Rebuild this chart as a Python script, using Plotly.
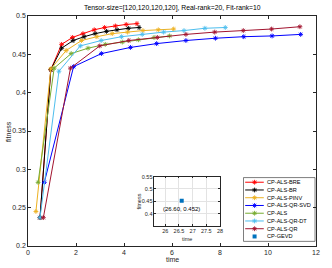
import plotly.graph_objects as go

# ---------------- data ----------------
bre_t = [0.50, 0.95, 1.40, 1.85, 2.29, 2.76, 3.19, 3.64, 4.09, 4.54]
bre_f = [0.237, 0.430, 0.463, 0.472, 0.477, 0.482, 0.485, 0.487, 0.489, 0.490]

br_t = [0.50, 0.95, 1.40, 1.88, 2.34, 2.80, 3.27, 3.71, 4.18, 4.63]
br_f = [0.237, 0.430, 0.458, 0.468, 0.473, 0.477, 0.480, 0.482, 0.484, 0.485]

pinv_t = [0.33, 0.95, 1.59, 2.23, 2.87, 3.51, 4.15, 4.79, 5.43, 6.07]
pinv_f = [0.245, 0.431, 0.455, 0.468, 0.473, 0.477, 0.479, 0.481, 0.482, 0.483]

qrsvd_t = [0.68, 1.90, 3.06, 4.27, 5.36, 6.58, 7.81, 8.99, 10.17, 11.36]
qrsvd_f = [0.283, 0.434, 0.451, 0.459, 0.464, 0.468, 0.471, 0.473, 0.474, 0.476]

als_t = [0.42, 1.09, 1.80, 2.50, 3.22, 3.93, 4.60, 5.25, 5.90]
als_f = [0.283, 0.432, 0.451, 0.458, 0.463, 0.466, 0.469, 0.472, 0.474]

qrdt_t = [0.50, 1.29, 2.18, 3.05, 3.90, 4.76, 5.65, 6.50, 7.37, 8.22]
qrdt_f = [0.237, 0.428, 0.461, 0.468, 0.473, 0.476, 0.479, 0.481, 0.484, 0.485]

qr_t = [0.64, 1.77, 2.99, 4.20, 5.39, 6.58, 7.78, 8.97, 10.15, 11.33]
qr_f = [0.237, 0.432, 0.461, 0.468, 0.472, 0.476, 0.479, 0.481, 0.483, 0.486]

gevd_t = [26.60]
gevd_f = [0.452]

series_names = ["CP-ALS-BRE", "CP-ALS-BR", "CP-ALS-PINV", "CP-ALS-QR-SVD",
                "CP-ALS", "CP-ALS-QR-DT", "CP-ALS-QR"]
series_t = [bre_t, br_t, pinv_t, qrsvd_t, als_t, qrdt_t, qr_t]
series_f = [bre_f, br_f, pinv_f, qrsvd_f, als_f, qrdt_f, qr_f]
series_colors = ["#FF0000", "#000000", "#EDB120", "#0000FF",
                 "#77AC30", "#4DBEEE", "#A2142F"]
gevd_name = "CP-GEVD"
gevd_color = "#0072BD"

main_xticks = [0, 2, 4, 6, 8, 10, 12]
main_yticks = [0.2, 0.25, 0.3, 0.35, 0.4, 0.45, 0.5]
inset_xticks = [26, 26.5, 27, 27.5, 28]
inset_yticks = [0.4, 0.45, 0.5, 0.55]

title_text = "Tensor-size=[120,120,120,120], Real-rank=20, Fit-rank=10"

# ---------------- layout helpers ----------------
W, H = 332, 268
L, R, T, B = 26, 12, 14, 21
PW, PH = W - L - R, H - T - B


def px(X):
    return (X - L) / PW


def py(Y):
    return (H - B - Y) / PH


FONT = "Liberation Sans, Arial, sans-serif"
AX = "#262626"
MK = dict(symbol="asterisk", size=4)

fig = go.Figure()

for name, t, f, c in zip(series_names, series_t, series_f, series_colors):
    fig.add_trace(go.Scatter(
        x=t, y=f, mode="lines+markers", name=name,
        line=dict(color=c, width=1),
        marker=dict(color=c, line=dict(color=c, width=0.9), **MK),
        showlegend=False))

# inset
fig.add_trace(go.Scatter(
    x=gevd_t, y=gevd_f, mode="markers", name=gevd_name,
    marker=dict(symbol="square", size=4, color=gevd_color),
    xaxis="x2", yaxis="y2", showlegend=False))

inset_x0, inset_x1 = px(155), px(222)
inset_y0, inset_y1 = py(226.7), py(176.7)

shapes = [
    dict(type="rect", xref="paper", yref="paper", x0=inset_x0, x1=inset_x1,
         y0=inset_y0, y1=inset_y1, fillcolor="white", line=dict(width=0), layer="below"),
]

annotations = [
    dict(text=title_text, xref="paper", yref="paper", x=0.5, y=py(6.3),
         showarrow=False, xanchor="center", yanchor="middle",
         font=dict(size=6.8, color="#000000", family=FONT)),
    dict(text="fitness", xref="paper", yref="paper", x=px(6), y=py(131),
         showarrow=False, textangle=-90, xanchor="center", yanchor="middle",
         font=dict(size=7, color=AX, family=FONT)),
    dict(text="time", xref="paper", yref="paper", x=px(173), y=py(261),
         showarrow=False, xanchor="center", yanchor="middle",
         font=dict(size=7, color=AX, family=FONT)),
    dict(text="fitness", xref="paper", yref="paper", x=px(139.5), y=py(201.7),
         showarrow=False, textangle=-90, xanchor="center", yanchor="middle",
         font=dict(size=5.5, color=AX, family=FONT)),
    dict(text="time", xref="paper", yref="paper", x=px(188.5), y=py(240),
         showarrow=False, xanchor="center", yanchor="middle",
         font=dict(size=5.5, color=AX, family=FONT)),
    dict(text="(%.2f, %.3f)" % (gevd_t[0], gevd_f[0]), xref="x2", yref="y2",
         x=gevd_t[0], y=gevd_f[0], yshift=-8, showarrow=False,
         xanchor="center", yanchor="middle",
         font=dict(size=6, color="#000000", family=FONT)),
]

# manual legend
leg_x0, leg_x1 = 246, 319
leg_y0, leg_y1 = 177.7, 242.3
shapes.append(dict(type="rect", xref="paper", yref="paper",
                   x0=px(leg_x0), x1=px(leg_x1), y0=py(leg_y1), y1=py(leg_y0),
                   fillcolor="white", line=dict(color=AX, width=0.6), layer="below"))
row_y = [182.4 + 7.85 * i for i in range(8)]
line_a, line_m, line_b, text_x = 247.7, 257.3, 266.7, 268.0
for i, (name, c) in enumerate(zip(series_names, series_colors)):
    yy = py(row_y[i])
    fig.add_trace(go.Scatter(
        x=[px(line_a), px(line_b)], y=[yy, yy], mode="lines",
        line=dict(color=c, width=1), xaxis="x3", yaxis="y3",
        showlegend=False, hoverinfo="skip"))
    fig.add_trace(go.Scatter(
        x=[px(line_m)], y=[yy], mode="markers",
        marker=dict(color=c, line=dict(color=c, width=0.9), **MK),
        xaxis="x3", yaxis="y3", showlegend=False, hoverinfo="skip"))
    annotations.append(dict(text=name, xref="paper", yref="paper", x=px(text_x), y=yy,
                            showarrow=False, xanchor="left", yanchor="middle",
                            font=dict(size=5.6, color="#000000", family=FONT)))
yy = py(row_y[7])
fig.add_trace(go.Scatter(
    x=[px(line_m)], y=[yy], mode="markers",
    marker=dict(symbol="square", size=4, color=gevd_color),
    xaxis="x3", yaxis="y3", showlegend=False, hoverinfo="skip"))
annotations.append(dict(text=gevd_name, xref="paper", yref="paper", x=px(text_x), y=yy,
                        showarrow=False, xanchor="left", yanchor="middle",
                        font=dict(size=5.6, color="#000000", family=FONT)))

common = dict(showline=True, linecolor=AX, linewidth=0.6, mirror="ticks",
              ticks="inside", tickcolor=AX, tickwidth=0.6, zeroline=False)

fig.update_layout(
    width=W, height=H,
    margin=dict(l=L, r=R, t=T, b=B, pad=0),
    paper_bgcolor="white", plot_bgcolor="rgba(0,0,0,0)",
    font=dict(family=FONT, color=AX, size=7),
    showlegend=False,
    xaxis=dict(range=[0, 12], tickvals=main_xticks, ticklen=3, showgrid=False,
               tickfont=dict(size=7, color=AX), **common),
    yaxis=dict(range=[0.2, 0.5], tickvals=main_yticks, ticklen=3, showgrid=False,
               tickfont=dict(size=7, color=AX), **common),
    xaxis2=dict(domain=[inset_x0, inset_x1], anchor="y2", range=[25.6, 28],
                tickvals=inset_xticks, ticklen=2, showgrid=True, gridcolor="#e3e3e3",
                gridwidth=0.5, tickfont=dict(size=5.5, color=AX), **common),
    yaxis2=dict(domain=[inset_y0, inset_y1], anchor="x2", range=[0.35, 0.55],
                tickvals=inset_yticks, ticklen=2, showgrid=True, gridcolor="#e3e3e3",
                gridwidth=0.5, tickfont=dict(size=5.5, color=AX), **common),
    xaxis3=dict(overlaying="x", anchor="y3", range=[0, 1], visible=False),
    yaxis3=dict(overlaying="y", anchor="x3", range=[0, 1], visible=False),
    shapes=shapes,
    annotations=annotations,
)

fig.write_html("out.html", config={"displayModeBar": False},
               post_script="document.body.style.margin='0';document.body.style.padding='0';")
